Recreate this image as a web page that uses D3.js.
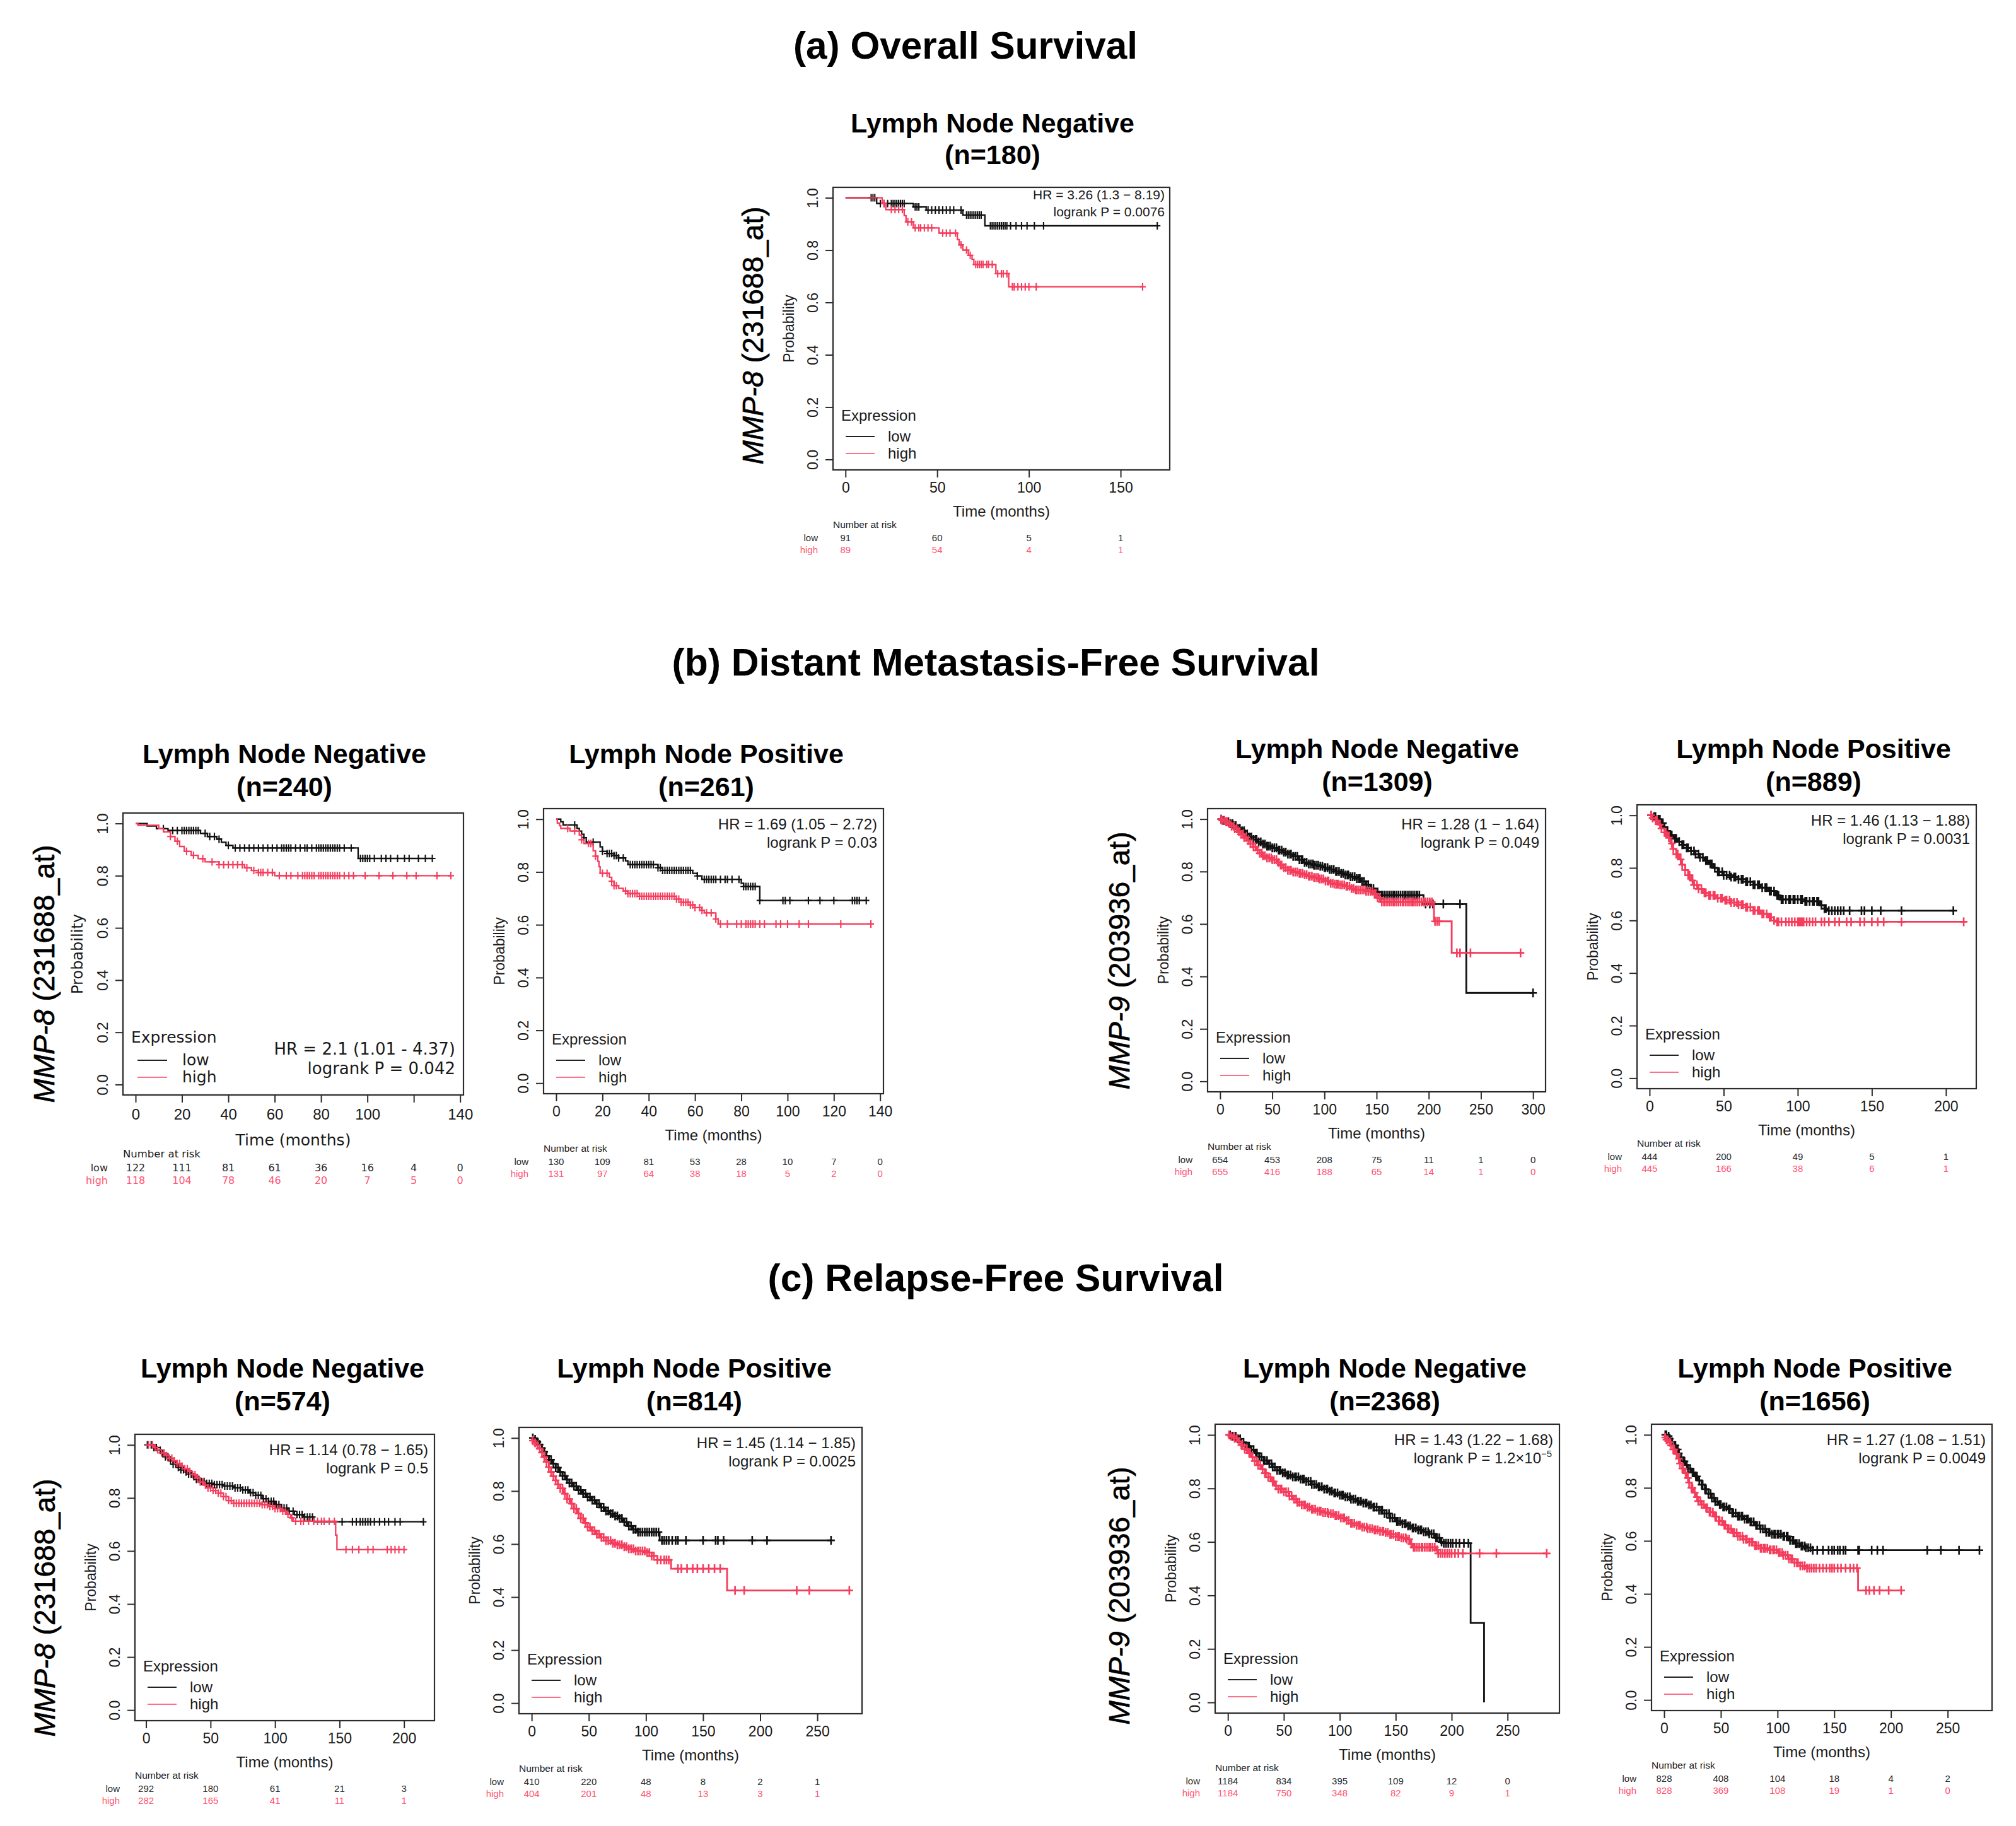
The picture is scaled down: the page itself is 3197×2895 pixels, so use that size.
<!DOCTYPE html>
<html>
<head>
<meta charset="utf-8">
<title>MMP-8 / MMP-9 Kaplan-Meier survival curves</title>
<script src="https://d3js.org/d3.v7.min.js"></script>
<style>
  body { margin: 0; background: #fff; }
  svg { display: block; font-family: "Liberation Sans", Arial, sans-serif; }
</style>
</head>
<body>
<div id="chart"></div>
<script>
// ---------- data ----------
// steps: [time (months), survival after the drop]; censor: times of "+" marks
var sectionTitles = ["(a) Overall Survival", "(b) Distant Metastasis-Free Survival", "(c) Relapse-Free Survival"];
var yTicks = [0, 0.2, 0.4, 0.6, 0.8, 1.0];
var yTickLabels = ["0.0", "0.2", "0.4", "0.6", "0.8", "1.0"];

// (a) OS, LN negative, MMP-8
var aTicks = [0, 50, 100, 150];
var aTickLabels = ["0", "50", "100", "150"];
var aLowSteps = [[17,0.978],[37,0.965],[44,0.953],[64,0.934],[76,0.893]];
var aLowCensor = [14,15,16,19,21,23,25,26,27,28,29,30,31,32,38,39,40,45,47,49,51,53,55,57,59,63,66,67,68,69,70,71,72,73,74,79,80,81,82,83,84,85,86,87,88,90,93,96,99,103,108,170];
var aHighSteps = [[20,0.978],[22,0.955],[32,0.932],[33,0.908],[37,0.885],[51,0.865],[61,0.84],[62,0.82],[64,0.80],[67,0.78],[69,0.765],[70,0.745],[82,0.71],[89,0.66]];
var aHighCensor = [21,25,27,29,31,34,36,38,40,41,43,45,47,53,55,57,60,63,66,68,71,72,73,74,75,77,78,80,83,85,86,88,91,92,94,96,98,100,104,162];
var aRiskLow = [91, 60, 5, 1];
var aRiskHigh = [89, 54, 4, 1];
var aHR = ["HR = 3.26 (1.3 \u2212 8.19)", "logrank P = 0.0076"];

// (b1) DMFS, LN negative, MMP-8
var b1Ticks = [0, 20, 40, 60, 80, 100, 120, 140];
var b1TickLabels = ["0", "20", "40", "60", "80", "100", "", "140"];
var b1LowSteps = [[5,0.99],[9,0.98],[14,0.973],[28,0.962],[31,0.95],[35,0.94],[37,0.928],[39,0.916],[42,0.906],[96,0.866]];
var b1LowCensor = [12,16,18,20,21,22,23,24,25,26,27,30,32,34,36,40,43,45,47,49,51,53,55,57,59,61,63,64,65,66,67,69,71,73,74,76,78,79,80,81,82,83,84,85,86,87,88,90,93,97,98,99,100,101,103,106,108,110,113,116,118,122,125,128];
var b1HighSteps = [[1,0.993],[10,0.98],[12,0.968],[15,0.95],[17,0.932],[19,0.912],[21,0.893],[24,0.878],[27,0.865],[30,0.853],[36,0.842],[47,0.83],[50,0.82],[53,0.812],[60,0.8]];
var b1HighCensor = [15,18,22,25,29,33,36,38,40,42,44,46,48,51,53,54,55,57,59,62,65,67,70,72,73,74,75,76,77,79,80,81,82,83,84,85,86,87,88,90,92,94,99,105,111,117,121,130,136];
var b1RiskLow = [122, 111, 81, 61, 36, 16, 4, 0];
var b1RiskHigh = [118, 104, 78, 46, 20, 7, 5, 0];
var b1HR = ["HR = 2.1 (1.01 - 4.37)", "logrank P = 0.042"];

// (b2) DMFS, LN positive, MMP-8
var b2Ticks = [0, 20, 40, 60, 80, 100, 120, 140];
var b2TickLabels = ["0", "20", "40", "60", "80", "100", "120", "140"];
var b2LowSteps = [[2,0.99],[3,0.978],[9,0.965],[10,0.955],[11,0.943],[12,0.93],[13,0.913],[19,0.895],[20,0.878],[22,0.87],[25,0.862],[27,0.853],[30,0.842],[31,0.828],[44,0.816],[46,0.806],[59,0.795],[61,0.785],[63,0.772],[80,0.757],[81,0.745],[88,0.692]];
var b2LowCensor = [8,12,16,20,22,23,24,25,26,27,29,32,33,34,35,36,37,38,39,40,41,42,44,45,46,47,48,49,50,51,52,53,54,55,56,57,58,61,64,65,66,67,68,69,71,73,74,76,79,81,82,83,84,85,86,88,98,99,101,109,114,120,128,129,130,131,134];
var b2HighSteps = [[0.5,0.985],[1.5,0.975],[2,0.965],[6,0.955],[10,0.94],[11,0.922],[12,0.908],[16,0.88],[17,0.86],[18,0.84],[18.5,0.82],[19,0.795],[23,0.78],[24,0.765],[25,0.748],[27,0.738],[29,0.728],[31,0.718],[36,0.708],[52,0.697],[54,0.685],[58,0.675],[60,0.665],[63,0.655],[64,0.645],[69,0.622],[70,0.603]];
var b2HighCensor = [5,8,11,14,15,17,20,22,24,25,26,30,31,32,33,34,35,36,37,38,39,40,41,42,43,44,45,46,47,48,49,50,51,52,53,54,55,56,57,58,59,60,62,63,65,67,69,71,74,78,80,82,83,84,85,86,88,90,95,97,100,105,109,123,136];
var b2RiskLow = [130, 109, 81, 53, 28, 10, 7, 0];
var b2RiskHigh = [131, 97, 64, 38, 18, 5, 2, 0];
var b2HR = ["HR = 1.69 (1.05 \u2212 2.72)", "logrank P = 0.03"];

// (b3) DMFS, LN negative, MMP-9
var b3Ticks = [0, 50, 100, 150, 200, 250, 300];
var b3TickLabels = ["0", "50", "100", "150", "200", "250", "300"];
var b3LowSteps = [[3,0.995],[6,0.99],[10,0.983],[13,0.975],[16,0.965],[20,0.955],[24,0.943],[28,0.932],[32,0.922],[36,0.913],[40,0.905],[45,0.897],[50,0.89],[55,0.882],[60,0.874],[65,0.866],[70,0.858],[75,0.845],[80,0.835],[85,0.829],[90,0.824],[95,0.82],[100,0.815],[105,0.808],[110,0.8],[115,0.793],[120,0.787],[125,0.78],[130,0.773],[135,0.762],[140,0.75],[144,0.735],[148,0.722],[152,0.71],[195,0.676],[236,0.337]];
var b3LowCensor = [1,3,4,6,8,10,12,13,15,17,19,21,23,24,26,28,30,32,34,35,37,39,41,43,45,46,48,50,52,54,56,57,59,61,63,65,67,68,70,72,74,76,78,79,81,83,85,87,89,90,92,94,96,98,100,101,103,105,107,109,111,112,114,116,118,120,122,123,125,127,129,131,133,134,136,138,140,142,144,145,147,149,151,153,155,156,158,160,162,164,166,167,169,171,173,175,177,178,180,182,184,186,188,189,191,197,201,204,214,230,300];
var b3HighSteps = [[2,0.995],[5,0.99],[8,0.982],[11,0.973],[14,0.963],[17,0.953],[20,0.942],[23,0.93],[26,0.918],[29,0.906],[32,0.894],[35,0.882],[38,0.87],[41,0.86],[45,0.852],[50,0.845],[55,0.835],[58,0.825],[61,0.815],[65,0.805],[70,0.798],[75,0.793],[80,0.788],[85,0.782],[90,0.777],[95,0.772],[100,0.764],[105,0.755],[110,0.752],[115,0.749],[120,0.744],[125,0.735],[130,0.73],[140,0.725],[147,0.715],[150,0.7],[154,0.684],[205,0.61],[222,0.49]];
var b3HighCensor = [1,2,4,6,7,9,11,13,14,16,18,20,22,23,25,27,29,31,32,34,36,38,40,41,43,45,47,49,50,52,54,56,58,59,61,63,65,67,68,70,72,74,76,77,79,81,83,85,86,88,90,92,94,95,97,99,101,103,104,106,108,110,112,113,115,117,119,121,122,124,126,128,130,131,133,135,137,139,140,142,144,146,148,149,151,153,155,157,158,160,162,164,166,167,169,171,173,175,176,178,180,182,184,185,187,189,191,193,195,197,199,201,203,206,208,210,227,230,240,288];
var b3RiskLow = [654, 453, 208, 75, 11, 1, 0];
var b3RiskHigh = [655, 416, 188, 65, 14, 1, 0];
var b3HR = ["HR = 1.28 (1 \u2212 1.64)", "logrank P = 0.049"];

// (b4) DMFS, LN positive, MMP-9
var b4Ticks = [0, 50, 100, 150, 200];
var b4TickLabels = ["0", "50", "100", "150", "200"];
var b4LowSteps = [[2,0.995],[5,0.985],[8,0.97],[10,0.955],[12,0.94],[14,0.925],[16,0.912],[19,0.9],[22,0.888],[25,0.876],[28,0.864],[31,0.852],[34,0.84],[37,0.828],[40,0.815],[43,0.8],[46,0.785],[50,0.772],[55,0.765],[60,0.757],[65,0.747],[70,0.736],[75,0.725],[80,0.712],[85,0.695],[88,0.68],[105,0.673],[115,0.658],[118,0.645],[120,0.637]];
var b4LowCensor = [1,3,4,6,7,9,10,12,14,15,17,18,20,22,23,25,26,28,30,31,33,34,36,38,39,41,42,44,46,47,49,50,52,54,55,57,58,60,62,63,65,66,68,70,71,73,74,76,78,79,81,82,84,86,87,89,90,92,94,95,97,98,100,102,103,105,106,108,110,111,113,114,116,118,119,121,123,125,127,129,131,135,143,145,150,156,170,205];
var b4HighSteps = [[2,0.99],[4,0.98],[6,0.965],[8,0.95],[10,0.935],[12,0.915],[14,0.893],[16,0.872],[18,0.852],[20,0.832],[22,0.812],[24,0.792],[26,0.772],[28,0.752],[30,0.735],[33,0.72],[36,0.705],[40,0.695],[45,0.685],[50,0.677],[55,0.668],[60,0.66],[65,0.65],[70,0.638],[75,0.625],[80,0.612],[84,0.6],[86,0.595]];
var b4HighCensor = [1,2,4,5,7,8,10,11,13,15,16,18,19,21,22,24,26,27,29,30,32,33,35,37,38,40,41,43,44,46,48,49,51,52,54,55,57,59,60,62,63,65,66,68,70,71,73,74,76,77,79,81,82,84,86,87,89,92,94,96,98,100,101,102,103,104,106,108,110,112,116,118,121,125,128,133,136,142,145,150,154,158,170,212];
var b4RiskLow = [444, 200, 49, 5, 1];
var b4RiskHigh = [445, 166, 38, 6, 1];
var b4HR = ["HR = 1.46 (1.13 \u2212 1.88)", "logrank P = 0.0031"];

// (c1) RFS, LN negative, MMP-8
var c1Ticks = [0, 50, 100, 150, 200];
var c1TickLabels = ["0", "50", "100", "150", "200"];
var c1LowSteps = [[6,0.99],[9,0.98],[12,0.968],[15,0.955],[18,0.94],[21,0.927],[24,0.915],[27,0.906],[30,0.898],[33,0.89],[36,0.88],[39,0.87],[42,0.862],[46,0.855],[52,0.85],[60,0.845],[68,0.838],[75,0.83],[80,0.82],[85,0.81],[90,0.797],[95,0.787],[100,0.775],[105,0.762],[110,0.75],[115,0.737],[122,0.728],[130,0.71]];
var c1LowCensor = [1,4,6,8,11,13,15,17,19,21,23,25,27,29,31,33,35,37,39,41,43,45,47,49,51,53,55,57,59,61,63,65,67,69,71,73,75,77,79,81,83,85,87,89,91,93,95,97,99,101,103,105,107,109,111,114,117,119,121,123,125,127,129,152,160,163,166,168,170,172,174,177,181,185,188,193,197,215];
var c1HighSteps = [[6,0.99],[9,0.982],[12,0.97],[15,0.96],[18,0.95],[21,0.94],[24,0.93],[27,0.92],[30,0.91],[33,0.9],[36,0.888],[39,0.875],[42,0.86],[45,0.848],[48,0.838],[52,0.828],[56,0.818],[60,0.805],[64,0.79],[68,0.78],[90,0.775],[95,0.768],[100,0.76],[105,0.75],[109,0.738],[112,0.725],[114,0.712],[147,0.66],[148,0.605]];
var c1HighCensor = [2,5,7,9,12,14,16,18,20,22,24,26,28,30,32,34,36,38,40,42,44,46,48,50,52,54,56,58,60,62,64,66,68,70,72,74,76,78,80,82,84,86,88,90,92,94,96,98,100,102,104,106,108,110,113,116,120,122,126,130,133,136,138,142,146,155,160,165,172,176,187,190,193,196,200];
var c1RiskLow = [292, 180, 61, 21, 3];
var c1RiskHigh = [282, 165, 41, 11, 1];
var c1HR = ["HR = 1.14 (0.78 \u2212 1.65)", "logrank P = 0.5"];

// (c2) RFS, LN positive, MMP-8
var c2Ticks = [0, 50, 100, 150, 200, 250];
var c2TickLabels = ["0", "50", "100", "150", "200", "250"];
var c2LowSteps = [[3,0.995],[5,0.985],[7,0.975],[9,0.962],[11,0.948],[13,0.932],[15,0.918],[18,0.903],[21,0.888],[24,0.872],[27,0.857],[30,0.843],[33,0.83],[36,0.818],[40,0.803],[44,0.79],[48,0.777],[52,0.765],[56,0.752],[60,0.738],[64,0.725],[68,0.714],[72,0.706],[76,0.697],[80,0.683],[84,0.668],[88,0.655],[92,0.645],[112,0.614]];
var c2LowCensor = [1,3,5,7,9,11,13,15,17,19,21,23,25,27,29,31,33,35,37,39,41,43,45,47,49,51,53,55,57,59,61,63,65,67,69,71,73,75,77,79,81,83,85,87,89,91,93,95,97,99,101,103,105,107,109,111,114,116,118,120,123,126,128,135,150,161,163,168,193,206,262];
var c2HighSteps = [[0.5,0.99],[3,0.982],[5,0.972],[7,0.96],[9,0.945],[11,0.928],[13,0.91],[15,0.89],[17,0.872],[19,0.856],[21,0.84],[23,0.825],[25,0.81],[28,0.79],[31,0.77],[34,0.752],[37,0.733],[40,0.715],[43,0.697],[46,0.68],[49,0.664],[52,0.65],[56,0.637],[60,0.625],[65,0.613],[70,0.603],[75,0.597],[80,0.59],[85,0.582],[90,0.574],[100,0.568],[105,0.555],[110,0.54],[122,0.507],[171,0.425]];
var c2HighCensor = [1,3,5,7,9,11,13,15,17,19,21,23,25,27,29,31,33,35,37,39,41,43,45,47,49,51,53,55,57,59,61,63,65,67,69,71,73,75,77,79,81,83,85,87,89,91,93,95,97,99,101,103,105,107,110,113,116,118,120,128,131,136,141,145,150,155,160,165,178,186,232,243,278];
var c2RiskLow = [410, 220, 48, 8, 2, 1];
var c2RiskHigh = [404, 201, 48, 13, 3, 1];
var c2HR = ["HR = 1.45 (1.14 \u2212 1.85)", "logrank P = 0.0025"];

// (c3) RFS, LN negative, MMP-9
var c3Ticks = [0, 50, 100, 150, 200, 250];
var c3TickLabels = ["0", "50", "100", "150", "200", "250"];
var c3LowSteps = [[4,0.995],[8,0.985],[12,0.972],[16,0.958],[20,0.945],[24,0.932],[28,0.918],[32,0.904],[36,0.892],[40,0.88],[44,0.868],[48,0.858],[53,0.85],[58,0.843],[64,0.835],[70,0.826],[75,0.815],[80,0.806],[85,0.798],[90,0.79],[95,0.783],[100,0.775],[105,0.768],[110,0.76],[115,0.752],[120,0.745],[125,0.738],[130,0.73],[135,0.718],[140,0.706],[145,0.69],[150,0.677],[155,0.668],[160,0.66],[165,0.652],[170,0.645],[175,0.638],[180,0.63],[185,0.615],[190,0.6],[193,0.595],[217,0.297],[229,0]];
var c3LowCensor = [2,4,5,7,9,11,12,14,16,18,19,21,23,25,26,28,30,32,33,35,37,39,40,42,44,46,47,49,51,53,54,56,58,60,61,63,65,67,68,70,72,74,75,77,79,81,82,84,86,88,89,91,93,95,96,98,100,102,103,105,107,109,110,112,114,116,117,119,121,123,124,126,128,130,131,133,135,137,138,140,142,144,145,147,149,151,152,154,156,158,159,161,163,165,166,168,170,172,173,175,177,179,180,182,184,186,187,189,191,193,195,197,199,201,204,207,211,215];
var c3HighSteps = [[3,0.995],[6,0.987],[9,0.976],[12,0.962],[15,0.947],[18,0.932],[21,0.917],[24,0.902],[27,0.887],[30,0.872],[33,0.857],[36,0.842],[39,0.826],[42,0.81],[45,0.798],[50,0.787],[55,0.772],[58,0.76],[62,0.748],[66,0.738],[70,0.73],[75,0.722],[80,0.715],[85,0.71],[90,0.705],[95,0.698],[100,0.69],[105,0.68],[110,0.67],[115,0.662],[120,0.655],[125,0.65],[130,0.645],[135,0.64],[140,0.635],[145,0.628],[150,0.62],[155,0.615],[160,0.61],[163,0.592],[165,0.58],[186,0.57],[188,0.557]];
var c3HighCensor = [1,3,5,6,8,10,12,13,15,17,19,20,22,24,26,27,29,31,33,34,36,38,40,41,43,45,47,48,50,52,54,55,57,59,61,62,64,66,68,69,71,73,75,76,78,80,82,83,85,87,89,90,92,94,96,97,99,101,103,104,106,108,110,111,113,115,117,118,120,122,124,125,127,129,131,132,134,136,138,139,141,143,145,146,148,150,152,153,155,157,159,160,162,164,166,167,169,171,173,174,176,178,180,181,183,185,187,188,190,192,194,196,198,200,203,206,210,225,240,285];
var c3RiskLow = [1184, 834, 395, 109, 12, 0];
var c3RiskHigh = [1184, 750, 348, 82, 9, 1];
var c3HR = ["HR = 1.43 (1.22 \u2212 1.68)", "logrank P = 1.2\u00d710", "\u22125"];

// (c4) RFS, LN positive, MMP-9
var c4Ticks = [0, 50, 100, 150, 200, 250];
var c4TickLabels = ["0", "50", "100", "150", "200", "250"];
var c4LowSteps = [[3,0.995],[5,0.985],[7,0.973],[9,0.96],[11,0.945],[13,0.93],[15,0.915],[17,0.9],[19,0.886],[21,0.873],[24,0.858],[27,0.843],[30,0.828],[33,0.812],[36,0.795],[39,0.778],[42,0.762],[45,0.748],[48,0.737],[52,0.728],[56,0.72],[60,0.705],[65,0.693],[70,0.682],[75,0.672],[80,0.658],[85,0.645],[90,0.632],[95,0.625],[105,0.617],[110,0.602],[115,0.59],[120,0.58],[125,0.574],[131,0.565]];
var c4LowCensor = [1,2,4,5,7,9,10,12,13,15,17,18,20,21,23,25,26,28,29,31,33,34,36,37,39,41,42,44,45,47,49,50,52,53,55,57,58,60,61,63,65,66,68,69,71,73,74,76,77,79,81,82,84,85,87,89,90,92,93,95,97,98,100,101,103,105,106,108,109,111,113,114,116,117,119,121,122,124,125,127,129,131,135,140,145,148,150,153,155,158,160,171,172,183,188,193,232,244,260,278];
var c4HighSteps = [[0.5,0.99],[2,0.982],[4,0.972],[6,0.96],[8,0.945],[10,0.928],[12,0.91],[14,0.892],[16,0.873],[18,0.855],[20,0.837],[22,0.82],[24,0.8],[26,0.782],[28,0.765],[30,0.75],[33,0.737],[36,0.725],[40,0.708],[44,0.692],[48,0.675],[52,0.66],[56,0.645],[60,0.63],[65,0.617],[70,0.606],[75,0.596],[80,0.582],[85,0.572],[92,0.566],[100,0.556],[105,0.546],[110,0.532],[115,0.518],[120,0.506],[126,0.497],[171,0.413]];
var c4HighCensor = [1,2,3,5,6,8,9,11,13,14,16,17,19,21,22,24,25,27,29,30,32,33,35,37,38,40,41,43,45,46,48,49,51,53,54,56,57,59,61,62,64,65,67,69,70,72,73,75,77,78,80,81,83,85,86,88,89,91,93,94,96,97,99,101,102,104,105,107,109,110,112,113,115,117,118,120,122,124,126,128,130,132,134,137,140,143,146,148,150,153,156,160,164,167,170,178,181,185,190,198,209];
var c4RiskLow = [828, 408, 104, 18, 4, 2];
var c4RiskHigh = [828, 369, 108, 19, 1, 0];
var c4HR = ["HR = 1.27 (1.08 \u2212 1.51)", "logrank P = 0.0049"];

// ---------- layout ----------
var W = 3197, H = 2895;
var RED = "#f53c5c", RED_TXT = "#ff5473", BLACK = "#111", AXIS = "#2b2b2b", TXT = "#1a1a1a";

var arialFs = { tick: 23, axis: 24, hr: 24, legend: 24, risk: 15, nar: 15.5,
  tickY: 36, timeY: 74, narY: 92, lowY: 113, highY: 132, probX: 62, tickLabX: 24,
  legExpY: 78, legLowY: 53, legHighY: 26, legX0: 20, legX1: 66, legTx: 87, hrY: [33, 62], hrR: 10 };
var dejaFs = { tick: 24, axis: 25, hr: 26, legend: 25, risk: 16, nar: 16.5,
  tickY: 39, timeY: 80, narY: 99, lowY: 121, highY: 141, probX: 64, tickLabX: 24,
  legExpY: 83, legLowY: 55, legHighY: 28, legX0: 23, legX1: 70, legTx: 94, hrY: [-64, -33], hrR: 13 };

var panels = [
  { box: [1321, 297, 1855, 745], tx: 1574, ty: [210, 260], title: ["Lymph Node Negative", "(n=180)"],
    ticks: aTicks, labels: aTickLabels, low: [aLowSteps, aLowCensor], high: [aHighSteps, aHighCensor],
    risk: [aRiskLow, aRiskHigh], hr: aHR, fs: Object.assign({}, arialFs, { hr: 21, hrY: [19, 46], hrR: 8 }) },
  { box: [195, 1289, 735, 1736], tx: 451, ty: [1210, 1262], title: ["Lymph Node Negative", "(n=240)"],
    ticks: b1Ticks, labels: b1TickLabels, low: [b1LowSteps, b1LowCensor], high: [b1HighSteps, b1HighCensor],
    risk: [b1RiskLow, b1RiskHigh], hr: b1HR, fs: dejaFs, dejavu: true, hrBottom: true },
  { box: [862, 1282, 1401, 1734], tx: 1120, ty: [1210, 1262], title: ["Lymph Node Positive", "(n=261)"],
    ticks: b2Ticks, labels: b2TickLabels, low: [b2LowSteps, b2LowCensor], high: [b2HighSteps, b2HighCensor],
    risk: [b2RiskLow, b2RiskHigh], hr: b2HR, fs: arialFs },
  { box: [1915, 1282, 2451, 1731], tx: 2184, ty: [1202, 1254], title: ["Lymph Node Negative", "(n=1309)"],
    ticks: b3Ticks, labels: b3TickLabels, low: [b3LowSteps, b3LowCensor], high: [b3HighSteps, b3HighCensor],
    risk: [b3RiskLow, b3RiskHigh], hr: b3HR, fs: arialFs, dense: true },
  { box: [2596, 1276, 3134, 1726], tx: 2876, ty: [1202, 1254], title: ["Lymph Node Positive", "(n=889)"],
    ticks: b4Ticks, labels: b4TickLabels, low: [b4LowSteps, b4LowCensor], high: [b4HighSteps, b4HighCensor],
    risk: [b4RiskLow, b4RiskHigh], hr: b4HR, fs: arialFs, dense: true },
  { box: [214, 2274, 689, 2728], tx: 448, ty: [2184, 2236], title: ["Lymph Node Negative", "(n=574)"],
    ticks: c1Ticks, labels: c1TickLabels, low: [c1LowSteps, c1LowCensor], high: [c1HighSteps, c1HighCensor],
    risk: [c1RiskLow, c1RiskHigh], hr: c1HR, fs: arialFs },
  { box: [823, 2263, 1367, 2717], tx: 1101, ty: [2184, 2236], title: ["Lymph Node Positive", "(n=814)"],
    ticks: c2Ticks, labels: c2TickLabels, low: [c2LowSteps, c2LowCensor], high: [c2HighSteps, c2HighCensor],
    risk: [c2RiskLow, c2RiskHigh], hr: c2HR, fs: arialFs, dense: true },
  { box: [1927, 2258, 2473, 2716], tx: 2196, ty: [2184, 2236], title: ["Lymph Node Negative", "(n=2368)"],
    ticks: c3Ticks, labels: c3TickLabels, low: [c3LowSteps, c3LowCensor], high: [c3HighSteps, c3HighCensor],
    risk: [c3RiskLow, c3RiskHigh], hr: c3HR, fs: arialFs, dense: true },
  { box: [2619, 2258, 3159, 2712], tx: 2878, ty: [2184, 2236], title: ["Lymph Node Positive", "(n=1656)"],
    ticks: c4Ticks, labels: c4TickLabels, low: [c4LowSteps, c4LowCensor], high: [c4HighSteps, c4HighCensor],
    risk: [c4RiskLow, c4RiskHigh], hr: c4HR, fs: arialFs, dense: true }
];

var sectionPos = [[1531, 93, 546], [1579, 1071, 1027], [1579, 2047, 723]];
var geneLabels = [
  { gene: "MMP-8", probe: " (231688_at)", x: 1210, y: 532 },
  { gene: "MMP-8", probe: " (231688_at)", x: 86, y: 1544 },
  { gene: "MMP-9", probe: " (203936_at)", x: 1791, y: 1523 },
  { gene: "MMP-8", probe: " (231688_at)", x: 87, y: 2549 },
  { gene: "MMP-9", probe: " (203936_at)", x: 1791, y: 2530 }
];

// ---------- drawing ----------
var svg = d3.select("#chart").append("svg").attr("width", W).attr("height", H);
svg.append("rect").attr("width", W).attr("height", H).attr("fill", "#fff");

// narrow bold headings: Arial-like bold squeezed to the measured width
sectionTitles.forEach(function (t, i) {
  svg.append("text")
    .attr("x", sectionPos[i][0]).attr("y", sectionPos[i][1])
    .attr("text-anchor", "middle")
    .attr("textLength", sectionPos[i][2]).attr("lengthAdjust", "spacingAndGlyphs")
    .style("font-family", "'Liberation Sans', Arial, sans-serif")
    .style("font-weight", "bold").style("font-size", "62px").attr("fill", "#000")
    .text(t);
});

geneLabels.forEach(function (d) {
  var t = svg.append("text")
    .attr("transform", "translate(" + d.x + "," + d.y + ") rotate(-90)")
    .attr("text-anchor", "middle")
    .attr("stroke", "#000").attr("stroke-width", 0.6)
    .style("font-size", "46px").attr("fill", "#000");
  t.append("tspan").style("font-style", "italic").text(d.gene);
  t.append("tspan").text(d.probe);
});

function survAt(steps, t) {
  var s = 1;
  for (var i = 0; i < steps.length; i++) {
    if (steps[i][0] <= t) s = steps[i][1]; else break;
  }
  return s;
}

function drawPanel(p) {
  var L = p.box[0], T = p.box[1], R = p.box[2], B = p.box[3], fs = p.fs;
  var g = svg.append("g")
    .style("font-family", p.dejavu ? "'DejaVu Sans', sans-serif" : "'Liberation Sans', Arial, sans-serif");

  var tEnd = d3.max([p.low, p.high], function (c) {
    return Math.max(c[0][c[0].length - 1][0], d3.max(c[1]));
  });
  var x = d3.scaleLinear().domain([-0.04 * tEnd, 1.04 * tEnd]).range([L, R]);
  var y = d3.scaleLinear().domain([-0.04, 1.04]).range([B, T]);

  // title
  var tt = g.append("text").attr("text-anchor", "middle")
    .style("font-family", "'Liberation Sans', Arial, sans-serif")
    .style("font-weight", "bold").style("font-size", "43px").attr("fill", "#000");
  tt.append("tspan").attr("x", p.tx).attr("y", p.ty[0]).text(p.title[0]);
  tt.append("tspan").attr("x", p.tx).attr("y", p.ty[1]).text(p.title[1]);

  // axes
  var xa = g.append("g").attr("transform", "translate(0," + B + ")")
    .call(d3.axisBottom(x).tickValues(p.ticks).tickSize(12)
      .tickFormat(function (d, i) { return p.labels[i]; }));
  xa.select(".domain").remove();
  xa.selectAll("line").attr("stroke", AXIS).attr("stroke-width", 2);
  xa.selectAll("text").attr("y", fs.tickY).attr("dy", null)
    .attr("fill", TXT).style("font-size", fs.tick + "px");

  var ya = g.append("g").attr("transform", "translate(" + L + ",0)")
    .call(d3.axisLeft(y).tickValues(yTicks).tickSize(12)
      .tickFormat(function (d, i) { return yTickLabels[i]; }));
  ya.select(".domain").remove();
  ya.selectAll("line").attr("stroke", AXIS).attr("stroke-width", 2);
  ya.selectAll("text").attr("x", null).attr("dy", null)
    .attr("transform", "translate(" + (-fs.tickLabX) + ",0) rotate(-90)")
    .attr("text-anchor", "middle")
    .attr("fill", TXT).style("font-size", fs.tick + "px");

  g.append("rect").attr("x", L).attr("y", T).attr("width", R - L).attr("height", B - T)
    .attr("fill", "none").attr("stroke", AXIS).attr("stroke-width", 2.2);

  g.append("text").attr("x", (L + R) / 2).attr("y", B + fs.timeY).attr("text-anchor", "middle")
    .attr("fill", TXT).style("font-size", fs.axis + "px").text("Time (months)");
  g.append("text").attr("transform", "translate(" + (L - fs.probX) + "," + ((T + B) / 2) + ") rotate(-90)")
    .attr("text-anchor", "middle").attr("fill", TXT).style("font-size", (fs.axis - 1) + "px")
    .text("Probability");

  // curves, low first, high on top
  var line = d3.line().x(function (d) { return x(d[0]); }).y(function (d) { return y(d[1]); })
    .curve(d3.curveStepAfter);
  var arm = p.dense ? 7 : 6, mw = p.dense ? 2.6 : 2.1;
  [[p.low, BLACK], [p.high, RED]].forEach(function (c) {
    var steps = c[0][0], cens = c[0][1];
    var pts = [[0, 1]].concat(steps);
    var last = pts[pts.length - 1];
    var end = Math.max(last[0], d3.max(cens));
    if (end > last[0]) pts.push([end, last[1]]);
    g.append("path").attr("d", line(pts)).attr("fill", "none")
      .attr("stroke", c[1]).attr("stroke-width", p.dense ? 2.8 : 2.3);
    var d = cens.map(function (t) {
      var px = x(t), py = y(survAt(steps, t));
      return "M" + (px - arm + 1) + "," + py + "H" + (px + arm - 1) + "M" + px + "," + (py - arm) + "V" + (py + arm);
    }).join("");
    g.append("path").attr("d", d).attr("fill", "none").attr("stroke", c[1]).attr("stroke-width", mw);
  });

  // legend
  g.append("text").attr("x", L + 13).attr("y", B - fs.legExpY).attr("fill", TXT)
    .style("font-size", fs.legend + "px").text("Expression");
  [["low", "#222", fs.legLowY], ["high", "#ff6f88", fs.legHighY]].forEach(function (l) {
    g.append("line").attr("x1", L + fs.legX0).attr("x2", L + fs.legX1)
      .attr("y1", B - l[2]).attr("y2", B - l[2]).attr("stroke", l[1]).attr("stroke-width", 2.2);
    g.append("text").attr("x", L + fs.legTx).attr("y", B - l[2] + 8).attr("fill", TXT)
      .style("font-size", fs.legend + "px").text(l[0]);
  });

  // HR and logrank text
  var hy = p.hrBottom ? [B + fs.hrY[0], B + fs.hrY[1]] : [T + fs.hrY[0], T + fs.hrY[1]];
  g.append("text").attr("x", R - fs.hrR).attr("y", hy[0]).attr("text-anchor", "end")
    .attr("fill", TXT).style("font-size", fs.hr + "px").text(p.hr[0]);
  var h2 = g.append("text").attr("x", R - fs.hrR - (p.hr[2] ? 2 : 0)).attr("y", hy[1]).attr("text-anchor", "end")
    .attr("fill", TXT).style("font-size", fs.hr + "px");
  h2.append("tspan").text(p.hr[1]);
  if (p.hr[2]) {
    h2.append("tspan").attr("dy", -10).style("font-size", (fs.hr * 0.62) + "px").text(p.hr[2]);
  }

  // number at risk table
  g.append("text").attr("x", L).attr("y", B + fs.narY).attr("fill", TXT)
    .style("font-size", fs.nar + "px").text("Number at risk");
  [["low", p.risk[0], "#2a2a2a", fs.lowY], ["high", p.risk[1], RED_TXT, fs.highY]].forEach(function (r) {
    g.append("text").attr("x", L - 24).attr("y", B + r[3]).attr("text-anchor", "end")
      .attr("fill", r[2]).style("font-size", fs.risk + "px").text(r[0]);
    g.selectAll(null).data(r[1]).enter().append("text")
      .attr("x", function (d, i) { return x(p.ticks[i]); })
      .attr("y", B + r[3]).attr("text-anchor", "middle")
      .attr("fill", r[2]).style("font-size", fs.risk + "px")
      .text(function (d) { return d; });
  });
}

panels.forEach(drawPanel);
</script>
</body>
</html>
